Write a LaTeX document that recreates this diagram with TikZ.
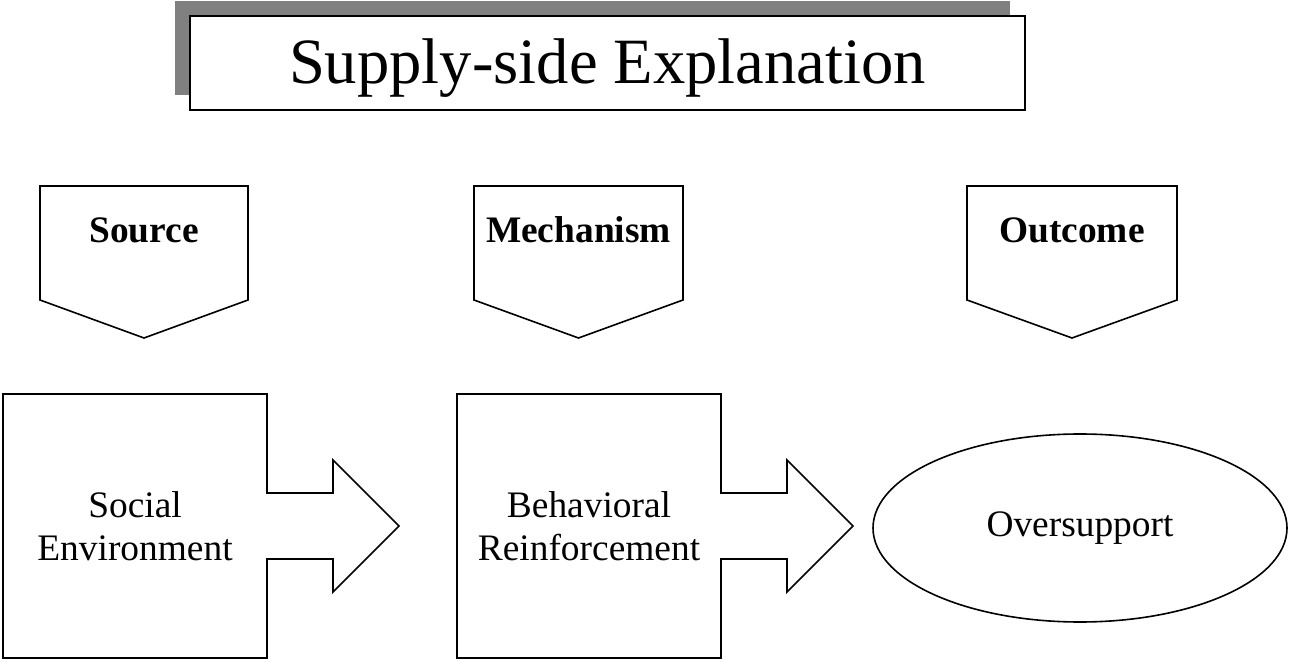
\documentclass[tikz,border=0pt]{standalone}
\usepackage{fontspec}
\setmainfont{Liberation Serif}
\usetikzlibrary{shapes.geometric}
\usetikzlibrary{shadows}
\usetikzlibrary{positioning}
\usetikzlibrary{calc}

\begin{document}
\begin{tikzpicture}[x=0.5pt,y=-0.5pt,line width=0.8pt,
		box node/.style={rectangle,outer sep=0pt,minimum width=132pt,minimum height=132pt,
			align=center,font=\fontsize{18.7}{21.5}\selectfont},
		head node/.style={font=\bfseries\fontsize{18.7}{21.5}\selectfont},
		title node/.style={rectangle,draw,fill=white,line width=1pt,minimum width=417.5pt,
			minimum height=47pt,text depth=2pt,font=\fontsize{32.3}{38}\selectfont,
			drop shadow={shadow xshift=-7.5pt,shadow yshift=7.5pt,fill=gray,opacity=1}}]
		
		\useasboundingbox (0,0) rectangle (1289,662);
		
		% title
		\node[title node] (title) at (607.5,63) {Supply-side Explanation};
		
		% heading callouts
		\foreach \l/\r/\t [count=\i] in {40/248/Source, 474/683/Mechanism, 967/1177/Outcome} {
			\draw (\l,186) -- (\r,186) -- (\r,300) -- ({(\l+\r)/2},338) -- (\l,300) -- cycle;
			\node[head node] (h\i) at ({(\l+\r)/2},230) {\t};
		}
		
		% boxes
		\node[box node] (soc) at (135,526) {Social\\Environment};
		\node[box node] (beh) [right=95pt of soc] {Behavioral\\Reinforcement};
		\node[ellipse,draw,minimum width=207pt,minimum height=94pt,
			font=\fontsize{18.7}{21.5}\selectfont] (over) at (1080,528) {Oversupport};
		
		\foreach \b in {soc,beh} {
			\draw ($(\b.east)+(0,-33)$) -- (\b.north east) -- (\b.north west) -- (\b.south west)
				-- (\b.south east) -- ($(\b.east)+(0,33)$) -- ++(66,0) -- ++(0,33) -- ++(66,-66)
				-- ++(-66,-66) -- ++(0,33) -- cycle;
		}
\end{tikzpicture}
\end{document}
